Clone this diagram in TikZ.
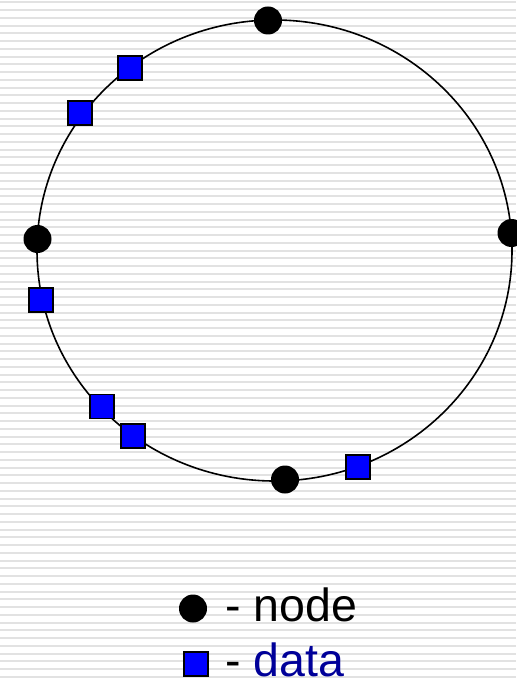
\documentclass[tikz,border=0pt]{standalone}
\usepackage{fontspec}
\setmainfont{Liberation Sans}
\definecolor{stripe}{RGB}{226,226,226}
\definecolor{datablue}{RGB}{0,0,255}
\definecolor{textblue}{RGB}{0,0,153}
\begin{document}
\begin{tikzpicture}[x=1pt,y=-1pt,
  nodedot/.style={circle,fill=black,minimum size=28pt,inner sep=0pt},
  datasq/.style={rectangle,draw=black,line width=1.5pt,fill=datablue,minimum size=24pt,inner sep=0pt},
  legendtext/.style={anchor=base west,inner sep=0pt,font=\fontsize{46.5}{56}\selectfont}]
\useasboundingbox (0,0) rectangle (516,679);
\fill[white] (0,0) rectangle (516,679);
\foreach \i in {0,...,87}{
  \draw[stripe,line width=2pt] (0,{2.5+7.75*\i}) -- (516,{2.5+7.75*\i});
}
\draw[black,line width=1.6pt] (274.5,250.5) ellipse [x radius=237.5pt, y radius=230.5pt];
% nodes
\node[nodedot] (n1) at (268,20.5) {};
\node[nodedot] (n2) at (37.5,239) {};
\node[nodedot] (n3) at (511.5,233) {};
\node[nodedot] (n4) at (285,479.5) {};
% data
\node[datasq] (d1) at (130,68) {};
\node[datasq] (d2) at (80,113) {};
\node[datasq] (d3) at (41,300) {};
\node[datasq] (d4) at (102,406.5) {};
\node[datasq] (d5) at (133,436) {};
\node[datasq] (d6) at (358,467) {};
% legend
\node[nodedot] (ln) at (193,608.5) {};
\node[legendtext] (lnt) at (225,621) {- node};
\node[datasq] (ld) at (196,664) {};
\node[legendtext] (ldt) at (225,676) {- \textcolor{textblue}{data}};
\end{tikzpicture}
\end{document}
